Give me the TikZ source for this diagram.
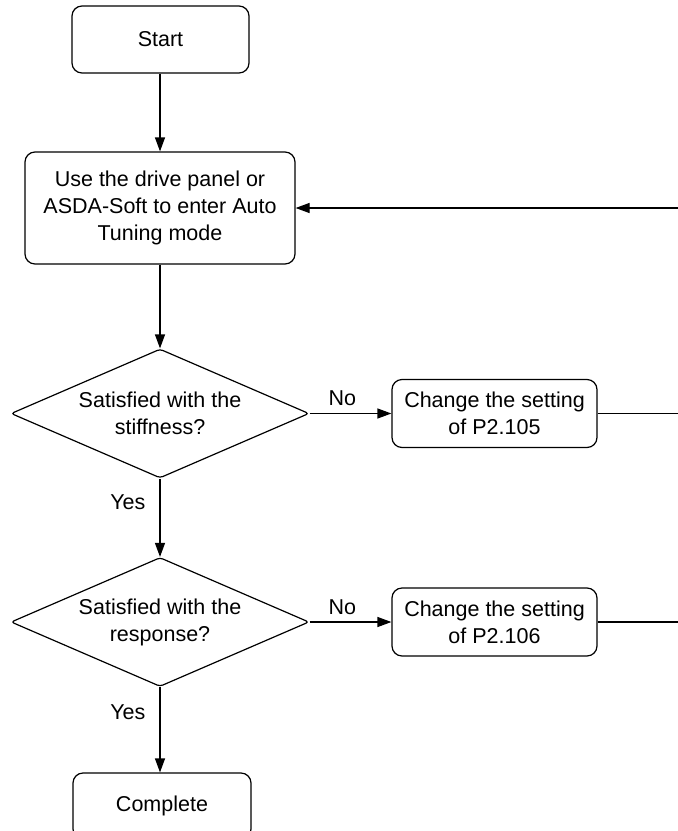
\documentclass[tikz,border=0pt]{standalone}
\usepackage{fontspec}
\setmainfont{Liberation Sans}
\usetikzlibrary{shapes.geometric,arrows.meta}
\begin{document}
\begin{tikzpicture}[x=1pt,y=-1pt,
  every node/.style={font=\fontsize{21.5}{27}\selectfont},
  box/.style={draw, line width=1.2pt, rounded corners=10pt, align=center, inner sep=0pt},
  decision/.style={draw, line width=1.2pt, diamond, aspect=2.3, rounded corners=3pt, align=center, inner sep=0pt, minimum width=298pt, minimum height=129pt},
  lbl/.style={inner sep=0pt},
  conn/.style={line width=1.2pt, -{Triangle[length=14pt,width=10pt]}},
  plain/.style={line width=1.2pt}]
\useasboundingbox (0,0) rectangle (678,831);
\node[box, minimum width=177pt, minimum height=67pt] (start) at (160.5,39.5) {Start};
\node[box, minimum width=270pt, minimum height=112pt] (use) at (160,208) {Use the drive panel or\\ASDA-Soft to enter Auto\\Tuning mode};
\node[decision] (d1) at (160,413.5) {Satisfied with the\\stiffness?};
\node[box, minimum width=205pt, minimum height=68pt] (c1) at (494.5,413.5) {Change the setting\\of P2.105};
\node[decision] (d2) at (160,622) {Satisfied with the\\response?};
\node[box, minimum width=205pt, minimum height=68pt] (c2) at (494.5,622) {Change the setting\\of P2.106};
\node[box, minimum width=178pt, minimum height=66pt] (done) at (162,806) {Complete};
\coordinate (r0) at (678,208);
\coordinate (r1) at (678,413.5);
\coordinate (r2) at (678,622);
\draw[conn] (start.south -| use.north) -- (use.north);
\draw[conn] (use) -- (d1);
\draw[conn] (d1.east) -- node[lbl, pos=0.4, above=7pt] {No} (c1.west);
\draw[plain] (c1.east) -- (r1);
\draw[conn] (r0) -- (use.east);
\draw[conn] (d1.south) -- node[lbl, pos=0.3, left=14pt] {Yes} (d2.north);
\draw[conn] (d2.east) -- node[lbl, pos=0.4, above=7pt] {No} (c2.west);
\draw[plain] (c2.east) -- (r2);
\draw[conn] (d2.south) -- node[lbl, pos=0.3, left=14pt] {Yes} (d2.south |- done.north);
\end{tikzpicture}
\end{document}
